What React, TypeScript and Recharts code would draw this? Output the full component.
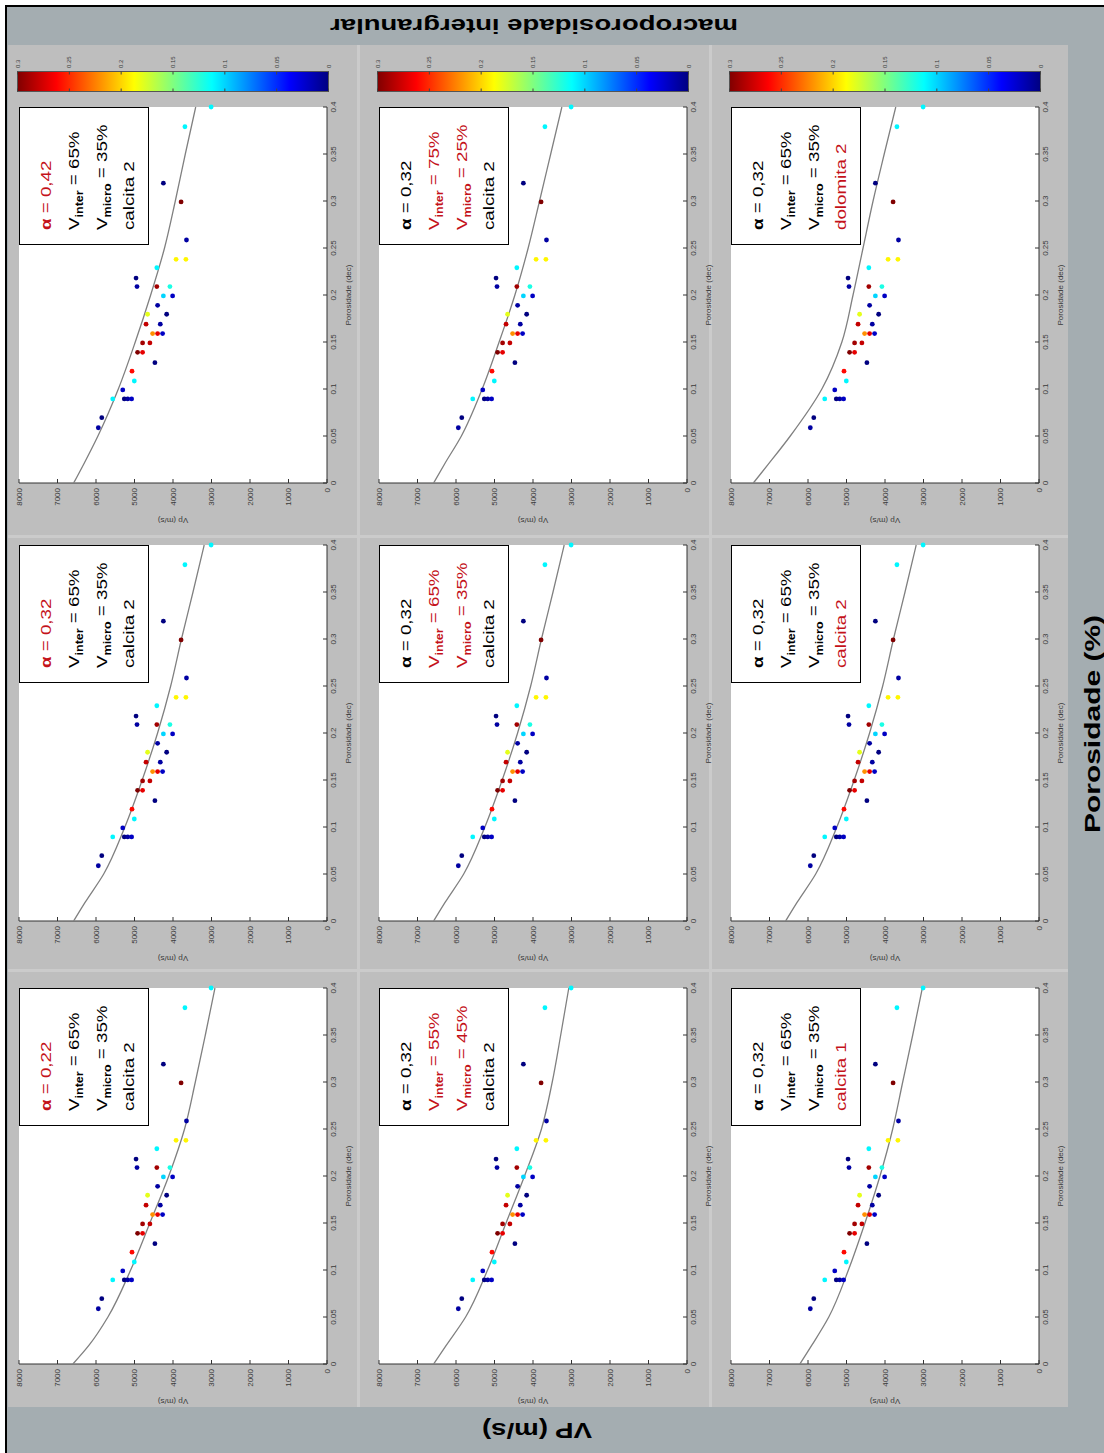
import React from "react";
import { ScatterChart, Scatter, XAxis, YAxis, CartesianGrid } from "recharts";

// amostras: porosidade (fração), Vp (m/s) e macroporosidade intergranular (cor)
const porosity = [
  0.4, 0.379, 0.319, 0.299, 0.2585, 0.238, 0.238, 0.229, 0.218, 0.209, 0.209, 0.209,
  0.199, 0.199, 0.189, 0.1795, 0.1795, 0.169, 0.169, 0.159, 0.159, 0.159, 0.149, 0.149,
  0.139, 0.139, 0.128, 0.119, 0.1085, 0.099, 0.0894, 0.0894, 0.0894, 0.0894, 0.0695, 0.0588,
];
const vpSample = [
  3010, 3690, 4250, 3790, 3650, 3920, 3665, 4420, 4960, 4935, 4420, 4080,
  4250, 4010, 4400, 4165, 4660, 4700, 4330, 4530, 4400, 4270, 4790, 4600,
  4920, 4790, 4470, 5065, 5005, 5305, 5565, 5265, 5175, 5075, 5850, 5940,
];
const macroInter = [
  0.11, 0.11, 0.0, 0.3, 0.01, 0.19, 0.19, 0.11, 0.0, 0.01, 0.29, 0.12,
  0.1, 0.02, 0.01, 0.0, 0.18, 0.28, 0.01, 0.22, 0.27, 0.02, 0.29, 0.28,
  0.3, 0.27, 0.0, 0.26, 0.11, 0.02, 0.11, 0.0, 0.01, 0.02, 0.0, 0.01,
];

// curvas do modelo (Vp em m/s) nas porosidades de phiGrid
const phiGrid = [0, 0.02, 0.05, 0.1, 0.15, 0.2, 0.25, 0.3, 0.35, 0.4];
const vpBase = [6580, 6280, 5800, 5250, 4800, 4400, 4060, 3780, 3480, 3190];
const vpAlpha022 = [6600, 6180, 5690, 5100, 4600, 4110, 3700, 3420, 3160, 2910];
const vpAlpha042 = [6580, 6320, 5950, 5420, 4980, 4580, 4220, 3940, 3680, 3410];
const vpInter55 = [6580, 6250, 5750, 5180, 4700, 4220, 3780, 3500, 3280, 3070];
const vpInter75 = [6580, 6300, 5860, 5320, 4880, 4470, 4125, 3830, 3540, 3250];
const vpCalcita1 = [6210, 5900, 5460, 4950, 4520, 4130, 3800, 3540, 3280, 3030];
const vpDolomita2 = [7420, 7030, 6460, 5640, 5120, 4830, 4570, 4310, 4020, 3720];

const phiTicks = [0, 0.05, 0.1, 0.15, 0.2, 0.25, 0.3, 0.35, 0.4];
const vpTicks = [0, 1000, 2000, 3000, 4000, 5000, 6000, 7000, 8000];
const cbTicks = [0, 0.05, 0.1, 0.15, 0.2, 0.25, 0.3];

const alphaLabels = ["0,22", "0,32", "0,42"];
const interLabels = ["55%", "65%", "75%"];
const microLabels = ["45%", "35%", "25%"];
const mineralLabels = ["calcita 1", "calcita 2", "dolomita 2"];

const curveGrid = [
  [vpAlpha022, vpBase, vpAlpha042],
  [vpInter55, vpBase, vpInter75],
  [vpCalcita1, vpBase, vpDolomita2],
];

// figura montada na horizontal e girada 90° no sentido anti-horário
const FIG_W = 1453;
const FIG_H = 1104;
const PW = 376;
const PH = 308;
const colX = [89, 532, 970];
const rowY = [19, 379, 731];
const LW = 40;
const BH = 30;
const MT = 6;
const MR = 14;
const CB_X = 1361;
const RED = "#c4121a";
const FONT = "'Liberation Sans', Arial, Helvetica, sans-serif";

const jetStops: [number, number[]][] = [
  [0, [0, 0, 128]],
  [0.125, [0, 0, 255]],
  [0.375, [0, 255, 255]],
  [0.625, [255, 255, 0]],
  [0.875, [255, 0, 0]],
  [1, [128, 0, 0]],
];

function jet(t: number) {
  const v = Math.max(0, Math.min(1, t));
  for (let i = 1; i < jetStops.length; i++) {
    const [t1, c1] = jetStops[i];
    const [t0, c0] = jetStops[i - 1];
    if (v <= t1) {
      const f = (v - t0) / (t1 - t0);
      const c = c0.map((a, k) => Math.round(a + (c1[k] - a) * f));
      return `rgb(${c[0]},${c[1]},${c[2]})`;
    }
  }
  return "rgb(128,0,0)";
}

const samples = porosity.map((p, i) => ({ x: p, y: vpSample[i], m: macroInter[i] }));

const tickStyle = { fontSize: 8, fill: "#3a3a3a", fontFamily: FONT };

function TextLine({ top, red, children }: { top: number; red: boolean; children: React.ReactNode }) {
  return (
    <div
      style={{
        position: "absolute",
        left: 14,
        top,
        fontSize: 15,
        lineHeight: "16px",
        fontFamily: FONT,
        color: red ? RED : "#000",
        whiteSpace: "nowrap",
        transform: "scaleX(1.25)",
        transformOrigin: "0 50%",
      }}
    >
      {children}
    </div>
  );
}

const subStyle: React.CSSProperties = { fontSize: 10, fontWeight: "bold", position: "relative", top: 4 };

function Panel({ r, c }: { r: number; c: number }) {
  const x0 = colX[c];
  const y0 = rowY[r];
  const curve = phiGrid.map((p, i) => ({ x: p, y: curveGrid[r][c][i] }));
  const alpha = r === 0 ? alphaLabels[c] : alphaLabels[1];
  const inter = r === 1 ? interLabels[c] : interLabels[1];
  const micro = r === 1 ? microLabels[c] : microLabels[1];
  const mineral = r === 2 ? mineralLabels[c] : mineralLabels[1];

  return (
    <>
      <div style={{ position: "absolute", left: x0 - LW, top: y0 - MT }}>
        <ScatterChart width={LW + PW + MR} height={PH + BH + MT} margin={{ top: MT, right: MR, bottom: 0, left: 0 }}>
          <CartesianGrid xAxisId="b" yAxisId="l" horizontal={false} vertical={false} fill="#ffffff" />
          <XAxis
            xAxisId="b"
            type="number"
            dataKey="x"
            domain={[0, 0.4]}
            ticks={phiTicks}
            interval={0}
            height={BH}
            tickSize={-4}
            tickMargin={7}
            tick={tickStyle}
            tickLine={{ stroke: "#333" }}
            axisLine={{ stroke: "#333" }}
          />
          <XAxis
            xAxisId="t"
            orientation="top"
            type="number"
            dataKey="x"
            domain={[0, 0.4]}
            ticks={phiTicks}
            height={0}
            tickSize={-4}
            tick={false}
            tickLine={{ stroke: "#333" }}
            axisLine={{ stroke: "#333" }}
          />
          <YAxis
            yAxisId="l"
            type="number"
            dataKey="y"
            domain={[0, 8000]}
            ticks={vpTicks}
            interval={0}
            width={LW}
            tickSize={-4}
            tickMargin={9}
            tick={tickStyle}
            tickLine={{ stroke: "#333" }}
            axisLine={{ stroke: "#333" }}
          />
          <YAxis
            yAxisId="r"
            orientation="right"
            type="number"
            dataKey="y"
            domain={[0, 8000]}
            ticks={vpTicks}
            width={0}
            tickSize={-4}
            tick={false}
            tickLine={{ stroke: "#333" }}
            axisLine={{ stroke: "#333" }}
          />
          <Scatter
            xAxisId="t"
            yAxisId="r"
            data={curve}
            shape={() => <g />}
            isAnimationActive={false}
          />
          <Scatter
            xAxisId="b"
            yAxisId="l"
            data={curve}
            line={{ stroke: "#808080", strokeWidth: 1.3 }}
            lineJointType="monotoneX"
            shape={() => <g />}
            isAnimationActive={false}
          />
          <Scatter
            xAxisId="b"
            yAxisId="l"
            data={samples}
            isAnimationActive={false}
            shape={(p: any) => <circle cx={p.cx} cy={p.cy} r={2.4} fill={jet(p.payload.m / 0.3)} />}
          />
        </ScatterChart>
      </div>

      <div
        style={{
          position: "absolute",
          left: x0 + PW - 138,
          top: y0,
          width: 138,
          height: 130,
          background: "#fff",
          border: "1.5px solid #000",
          boxSizing: "border-box",
        }}
      >
        <TextLine top={18} red={r === 0}>
          <b>α</b> = {alpha}
        </TextLine>
        <TextLine top={46} red={r === 1}>
          V<span style={subStyle}>inter</span> = {inter}
        </TextLine>
        <TextLine top={74} red={r === 1}>
          V<span style={subStyle}>micro</span> = {micro}
        </TextLine>
        <TextLine top={101} red={r === 2}>
          {mineral}
        </TextLine>
      </div>

      {c === 2 && <ColorBar r={r} top={y0 - 2} h={PH + 3} />}
    </>
  );
}

function ColorBar({ r, top, h }: { r: number; top: number; h: number }) {
  const id = `jet-${r}`;
  const pad = 6;
  return (
    <svg style={{ position: "absolute", left: CB_X, top: top - pad }} width={44} height={h + 2 * pad}>
      <defs>
        <linearGradient id={id} x1="0" y1="0" x2="0" y2="1">
          {[...jetStops].reverse().map(([t, col]) => (
            <stop key={t} offset={1 - t} stopColor={`rgb(${col[0]},${col[1]},${col[2]})`} />
          ))}
        </linearGradient>
      </defs>
      <rect x={0.5} y={pad + 0.5} width={20} height={h} fill={`url(#${id})`} stroke="#555" strokeWidth={1} />
      {cbTicks.map((v) => {
        const y = pad + 0.5 + ((0.3 - v) / 0.3) * h;
        return (
          <g key={v}>
            <line x1={0.5} x2={3.5} y1={y} y2={y} stroke="#444" />
            <line x1={17.5} x2={20.5} y1={y} y2={y} stroke="#444" />
            <text x={24} y={y} fontSize={6} fill="#3a3a3a" fontFamily={FONT} dominantBaseline="central">
              {String(v)}
            </text>
          </g>
        );
      })}
    </svg>
  );
}

export default function App() {
  const panels: React.ReactNode[] = [];
  for (let r = 0; r < 3; r++) for (let c = 0; c < 3; c++) panels.push(<Panel key={`${r}-${c}`} r={r} c={c} />);

  return (
    <div style={{ position: "absolute", left: 0, top: 0, width: 1104, height: 1453, overflow: "hidden", background: "#fff" }}>
      <div
        style={{
          position: "absolute",
          left: 0,
          top: 0,
          width: FIG_W,
          height: FIG_H,
          transformOrigin: "0 0",
          transform: `translateY(${FIG_W}px) rotate(-90deg)`,
        }}
      >
        {/* fundo, moldura e área da figura */}
        <div style={{ position: "absolute", left: 0, top: 7, width: 1446, height: FIG_H - 7, background: "#a4adb1" }} />
        <div style={{ position: "absolute", left: 0, top: 5, width: 1448, height: 2, background: "#000" }} />
        <div style={{ position: "absolute", left: 1446, top: 5, width: 2, height: FIG_H - 5, background: "#000" }} />
        <div style={{ position: "absolute", left: 46, top: 8, width: 1362, height: 1060, background: "#bebebe" }} />
        <div style={{ position: "absolute", left: 481, top: 8, width: 3, height: 1060, background: "#cbcbcb" }} />
        <div style={{ position: "absolute", left: 915, top: 8, width: 3, height: 1060, background: "#cbcbcb" }} />
        <div style={{ position: "absolute", left: 46, top: 357, width: 1362, height: 3, background: "#cbcbcb" }} />
        <div style={{ position: "absolute", left: 46, top: 709, width: 1362, height: 3, background: "#cbcbcb" }} />

        {panels}

        <svg style={{ position: "absolute", left: 0, top: 0, pointerEvents: "none" }} width={FIG_W} height={FIG_H}>
          {rowY.map((y0) =>
            colX.map((x0) => (
              <g key={`${x0}-${y0}`} fontFamily={FONT} fontSize={8} fill="#3a3a3a">
                <text
                  x={x0 - 37}
                  y={y0 + PH / 2}
                  textAnchor="middle"
                  dominantBaseline="central"
                  transform={`rotate(-90 ${x0 - 37} ${y0 + PH / 2})`}
                >
                  Vp (m/s)
                </text>
                <text x={x0 + PW / 2} y={y0 + PH + 21} textAnchor="middle" dominantBaseline="central">
                  Porosidade (dec)
                </text>
              </g>
            ))
          )}
          <text
            x={1427}
            y={534}
            textAnchor="middle"
            dominantBaseline="central"
            fontFamily={FONT}
            fontWeight="bold"
            fontSize={21}
            textLength={408}
            lengthAdjust="spacingAndGlyphs"
            transform="rotate(-90 1427 534)"
          >
            macroporosidade intergranular
          </text>
          <text
            x={729}
            y={1092}
            textAnchor="middle"
            dominantBaseline="central"
            fontFamily={FONT}
            fontWeight="bold"
            fontSize={22}
            textLength={218}
            lengthAdjust="spacingAndGlyphs"
          >
            Porosidade (%)
          </text>
          <text
            x={23}
            y={537}
            textAnchor="middle"
            dominantBaseline="central"
            fontFamily={FONT}
            fontWeight="bold"
            fontSize={22}
            textLength={110}
            lengthAdjust="spacingAndGlyphs"
            transform="rotate(-90 23 537)"
          >
            VP (m/s)
          </text>
        </svg>
      </div>
    </div>
  );
}
